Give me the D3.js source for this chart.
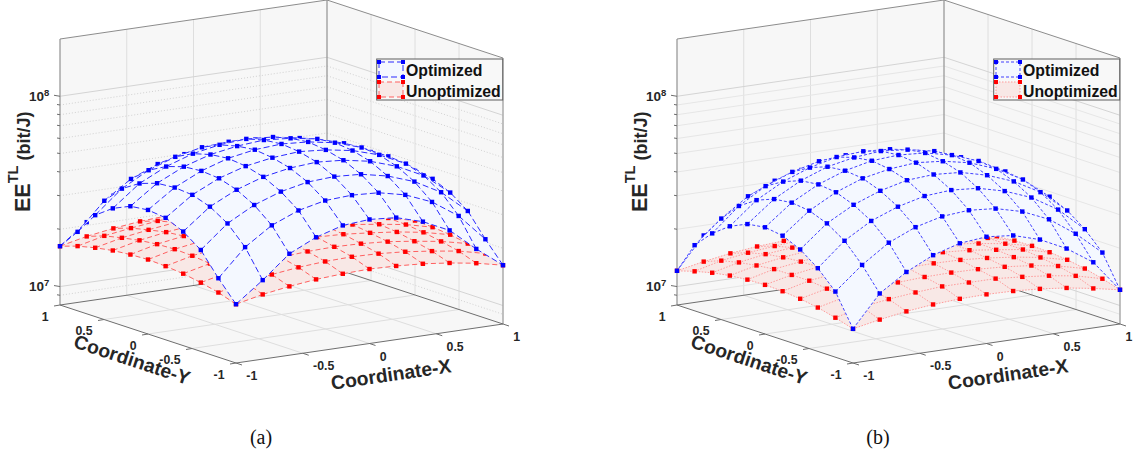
<!DOCTYPE html>
<html>
<head>
<meta charset="utf-8">
<script src="https://cdnjs.cloudflare.com/ajax/libs/d3/7.8.5/d3.min.js"></script>
<style>
    body {margin:0; background:#fff;}
    svg {display:block;}
    text {font-family:"Liberation Sans",Arial,sans-serif; font-weight:bold; fill:#262626;}
    text.caption {font-family:"Liberation Serif","Times New Roman",serif; font-weight:normal; fill:#111;}
</style>
</head>
<body>
<svg id="chart" width="1133" height="454"></svg>
<script>
// grid and axis values
const gridCoords = [-1,-0.8,-0.6,-0.4,-0.2,0,0.2,0.4,0.6,0.8,1];
const xyTicks = [-1,-0.5,0,0.5,1];
const zMajor = [1e7,1e8];
const zMinor = [9e6,2e7,3e7,4e7,5e7,6e7,7e7,8e7,9e7];
const zUnit = 1e7;
const legendLabels = ['Optimized','Unoptimized'];

// EE^TL in units of 1e7 bit/J
const optimizedA = [
    [1.63,2.08,2.73,3.18,3.50,3.59,3.50,3.18,2.73,2.08,1.63],
    [2.08,2.89,3.59,4.10,4.41,4.49,4.41,4.10,3.59,2.89,2.08],
    [2.73,3.59,4.28,4.80,5.14,5.24,5.14,4.80,4.28,3.59,2.73],
    [3.18,4.10,4.80,5.35,5.68,5.82,5.68,5.35,4.80,4.10,3.18],
    [3.50,4.41,5.14,5.68,6.00,6.16,6.00,5.68,5.14,4.41,3.50],
    [3.59,4.49,5.24,5.82,6.16,6.30,6.16,5.82,5.24,4.49,3.59],
    [3.50,4.41,5.14,5.68,6.00,6.16,6.00,5.68,5.14,4.41,3.50],
    [3.18,4.10,4.80,5.35,5.68,5.82,5.68,5.35,4.80,4.10,3.18],
    [2.73,3.59,4.28,4.80,5.14,5.24,5.14,4.80,4.28,3.59,2.73],
    [2.08,2.89,3.59,4.10,4.41,4.49,4.41,4.10,3.59,2.89,2.08],
    [1.63,2.08,2.73,3.18,3.50,3.59,3.50,3.18,2.73,2.08,1.63]
];
const unoptimizedA = [
    [1.63,1.75,1.84,1.91,1.95,1.97,1.95,1.91,1.84,1.75,1.63],
    [1.75,1.89,1.98,2.06,2.11,2.13,2.11,2.06,1.98,1.89,1.75],
    [1.84,1.98,2.08,2.17,2.22,2.24,2.22,2.17,2.08,1.98,1.84],
    [1.91,2.06,2.17,2.25,2.32,2.35,2.32,2.25,2.17,2.06,1.91],
    [1.95,2.11,2.22,2.32,2.38,2.41,2.38,2.32,2.22,2.11,1.95],
    [1.97,2.13,2.24,2.35,2.41,2.43,2.41,2.35,2.24,2.13,1.97],
    [1.95,2.11,2.22,2.32,2.38,2.41,2.38,2.32,2.22,2.11,1.95],
    [1.91,2.06,2.17,2.25,2.32,2.35,2.32,2.25,2.17,2.06,1.91],
    [1.84,1.98,2.08,2.17,2.22,2.24,2.22,2.17,2.08,1.98,1.84],
    [1.75,1.89,1.98,2.06,2.11,2.13,2.11,2.06,1.98,1.89,1.75],
    [1.63,1.75,1.84,1.91,1.95,1.97,1.95,1.91,1.84,1.75,1.63]
];
const optimizedB = [
    [1.21,1.77,2.19,2.56,2.82,2.91,2.82,2.56,2.19,1.77,1.21],
    [1.77,2.33,2.91,3.35,3.64,3.74,3.64,3.35,2.91,2.33,1.77],
    [2.19,2.91,3.53,4.00,4.34,4.45,4.34,4.00,3.53,2.91,2.19],
    [2.56,3.35,4.00,4.52,4.90,5.01,4.90,4.52,4.00,3.35,2.56],
    [2.82,3.64,4.34,4.90,5.23,5.39,5.23,4.90,4.34,3.64,2.82],
    [2.91,3.74,4.45,5.01,5.39,5.51,5.39,5.01,4.45,3.74,2.91],
    [2.82,3.64,4.34,4.90,5.23,5.39,5.23,4.90,4.34,3.64,2.82],
    [2.56,3.35,4.00,4.52,4.90,5.01,4.90,4.52,4.00,3.35,2.56],
    [2.19,2.91,3.53,4.00,4.34,4.45,4.34,4.00,3.53,2.91,2.19],
    [1.77,2.33,2.91,3.35,3.64,3.74,3.64,3.35,2.91,2.33,1.77],
    [1.21,1.77,2.19,2.56,2.82,2.91,2.82,2.56,2.19,1.77,1.21]
];
const unoptimizedB = [
    [1.21,1.29,1.36,1.41,1.44,1.45,1.44,1.41,1.36,1.29,1.21],
    [1.29,1.40,1.47,1.52,1.56,1.56,1.56,1.52,1.47,1.40,1.29],
    [1.36,1.47,1.55,1.60,1.63,1.64,1.63,1.60,1.55,1.47,1.36],
    [1.41,1.52,1.60,1.66,1.70,1.71,1.70,1.66,1.60,1.52,1.41],
    [1.44,1.56,1.63,1.70,1.74,1.76,1.74,1.70,1.63,1.56,1.44],
    [1.45,1.56,1.64,1.71,1.76,1.79,1.76,1.71,1.64,1.56,1.45],
    [1.44,1.56,1.63,1.70,1.74,1.76,1.74,1.70,1.63,1.56,1.44],
    [1.41,1.52,1.60,1.66,1.70,1.71,1.70,1.66,1.60,1.52,1.41],
    [1.36,1.47,1.55,1.60,1.63,1.64,1.63,1.60,1.55,1.47,1.36],
    [1.29,1.40,1.47,1.52,1.56,1.56,1.56,1.52,1.47,1.40,1.29],
    [1.21,1.29,1.36,1.41,1.44,1.45,1.44,1.41,1.36,1.29,1.21]
];

const svg = d3.select('#chart');
const chartWidth = +svg.attr('width');

let SurfacePanel = function ({
                                 offsetX = 0,
                                 caption = '',
                                 optimized,
                                 unoptimized,
                                 minorDash = null,
                                 minorColor = '#dcdcdc',
                                 blueLine = {stroke:'#2a2aff', dash:'6,3'},
                                 redLine = {stroke:'#ff6060', dash:'5,3'}
                             }) {
    let master = {};
    const frontX = 236, frontY = 363;
    // orthographic view, every axis is a pair of scales: data -> screen dx, dy
    const xToDx = d3.scaleLinear().domain([-1,1]).range([0,267]);
    const xToDy = d3.scaleLinear().domain([-1,1]).range([0,-39]);
    const yToDx = d3.scaleLinear().domain([-1,1]).range([0,-176]);
    const yToDy = d3.scaleLinear().domain([-1,1]).range([0,-58]);
    const zToDy = d3.scaleLog().domain([8e6,2e8]).range([0,-266]);
    const [zMin, zMax] = zToDy.domain();
    const project = (x,y,z)=>[frontX+xToDx(x)+yToDx(y), frontY+xToDy(x)+yToDy(y)+zToDy(z)];
    const line = d3.line();
    const poly = pts=>line(pts.map(p=>project(...p)))+'Z';

    master.el = svg.append('g').attr('transform',`translate(${offsetX},0)`);

    const drawFrame = ()=>{
        const g = master.el.append('g').attr('class','frame');
        g.selectAll('path.wall')
            .data([
                [[-1,1,zMin],[1,1,zMin],[1,1,zMax],[-1,1,zMax]],
                [[1,1,zMin],[1,-1,zMin],[1,-1,zMax],[1,1,zMax]],
                [[-1,-1,zMin],[1,-1,zMin],[1,1,zMin],[-1,1,zMin]]
            ])
            .join('path')
            .attr('class','wall')
            .attr('d',poly)
            .attr('fill','#f7f7f7');

        const inner = xyTicks.slice(1,-1);
        const gridData = [];
        inner.forEach(t=>{
            gridData.push([[t,1,zMin],[t,1,zMax]]);
            gridData.push([[1,t,zMin],[1,t,zMax]]);
            gridData.push([[t,-1,zMin],[t,1,zMin]]);
            gridData.push([[-1,t,zMin],[1,t,zMin]]);
        });
        g.selectAll('path.grid')
            .data(gridData)
            .join('path')
            .attr('class','grid')
            .attr('d',d=>line(d.map(p=>project(...p))))
            .attr('fill','none')
            .attr('stroke','#dedede')
            .attr('stroke-width',1);

        g.selectAll('path.zMinor')
            .data(zMinor)
            .join('path')
            .attr('class','zMinor')
            .attr('d',z=>line([project(-1,1,z),project(1,1,z),project(1,-1,z)]))
            .attr('fill','none')
            .attr('stroke',minorColor)
            .attr('stroke-width',1)
            .attr('stroke-dasharray',minorDash);
        g.selectAll('path.zMajor')
            .data(zMajor)
            .join('path')
            .attr('class','zMajor')
            .attr('d',z=>line([project(-1,1,z),project(1,1,z),project(1,-1,z)]))
            .attr('fill','none')
            .attr('stroke','#d4d4d4')
            .attr('stroke-width',1);

        // box edges
        const edges = [
            {p:[[-1,1,zMin],[-1,1,zMax]], c:'#9a9a9a', w:1.3},
            {p:[[1,1,zMin],[1,1,zMax]], c:'#9a9a9a', w:1.3},
            {p:[[1,-1,zMin],[1,-1,zMax]], c:'#ababab', w:1.5},
            {p:[[-1,1,zMax],[1,1,zMax],[1,-1,zMax]], c:'#8c8c8c', w:1},
            {p:[[-1,1,zMin],[1,1,zMin],[1,-1,zMin]], c:'#6e6e6e', w:1},
            {p:[[-1,1,zMin],[-1,-1,zMin],[1,-1,zMin]], c:'#6e6e6e', w:1}
        ];
        g.selectAll('path.edge')
            .data(edges)
            .join('path')
            .attr('class','edge')
            .attr('d',d=>line(d.p.map(p=>project(...p))))
            .attr('fill','none')
            .attr('stroke',d=>d.c)
            .attr('stroke-width',d=>d.w);
    };

    const drawAxes = ()=>{
        const g = master.el.append('g').attr('class','axes');
        const tickLine = (sel,cls,data,from,dx,dy)=>sel.selectAll('line.'+cls)
            .data(data)
            .join('line')
            .attr('class',cls)
            .attr('x1',d=>from(d)[0])
            .attr('y1',d=>from(d)[1])
            .attr('x2',d=>from(d)[0]+dx)
            .attr('y2',d=>from(d)[1]+dy)
            .attr('stroke','#6e6e6e')
            .attr('stroke-width',1);
        const onY = t=>project(-1,t,zMin);
        const onX = t=>project(t,-1,zMin);
        const onZ = z=>project(-1,1,z);
        tickLine(g,'yTick',xyTicks,onY,-6,1);
        tickLine(g,'xTick',xyTicks,onX,6,2);
        tickLine(g,'zTick',zMajor,onZ,-6,-1);
        tickLine(g,'zMinorTick',zMinor,onZ,-3,-0.5);

        g.selectAll('text.yLabel')
            .data(xyTicks)
            .join('text')
            .attr('class','yLabel')
            .attr('x',d=>onY(d)[0]-11.5)
            .attr('y',d=>onY(d)[1]+15.5)
            .attr('text-anchor','end')
            .attr('font-size',12.3)
            .text(d=>d);
        // the last x label of the right panel sits at the page edge, keep it inside
        g.selectAll('text.xLabel')
            .data(xyTicks)
            .join('text')
            .attr('class','xLabel')
            .attr('x',d=>Math.min(onX(d)[0]+10.3, chartWidth-offsetX-7.5))
            .attr('y',d=>onX(d)[1]+17)
            .attr('font-size',12.3)
            .text(d=>d);

        const zLabel = g.selectAll('text.zLabel')
            .data(zMajor)
            .join('text')
            .attr('class','zLabel')
            .attr('x',d=>onZ(d)[0]-31)
            .attr('y',d=>onZ(d)[1]+4.5)
            .attr('font-size',13.5);
        zLabel.append('tspan').text('10');
        zLabel.append('tspan')
            .attr('font-size',9.5)
            .attr('dy',-5)
            .text(d=>Math.round(Math.log10(d)));

        g.append('text')
            .attr('transform',`translate(130,366) rotate(18.2)`)
            .attr('text-anchor','middle')
            .attr('font-size',19.3)
            .text('Coordinate-Y');
        g.append('text')
            .attr('transform',`translate(392,381) rotate(-8.3)`)
            .attr('text-anchor','middle')
            .attr('font-size',19.3)
            .text('Coordinate-X');

        const zTitle = g.append('text')
            .attr('transform','translate(29.5,212) rotate(-90)')
            .attr('font-size',21.5);
        zTitle.append('tspan').text('EE');
        zTitle.append('tspan').attr('font-size',14.5).attr('dy',-12).text('TL');
        zTitle.append('tspan').attr('font-size',18).attr('dy',12).attr('dx',5).text('(bit/J)');

        master.el.append('text')
            .attr('class','caption')
            .attr('x',261)
            .attr('y',444)
            .attr('text-anchor','middle')
            .attr('font-size',20)
            .text(caption);
    };

    // painter's order, far corner (index 10,10) first
    const drawSurface = (values,fill,lineStyle,markerColor,cls)=>{
        const pt = (i,j)=>project(gridCoords[i],gridCoords[j],values[j][i]*zUnit);
        const items = [];
        const n = gridCoords.length;
        d3.range(n).forEach(i=>d3.range(n).forEach(j=>{
            if (i<n-1 && j<n-1)
                items.push({kind:'cell',depth:i+j+1,rank:0,d:line([pt(i,j),pt(i+1,j),pt(i+1,j+1),pt(i,j+1)])+'Z'});
            if (i<n-1)
                items.push({kind:'edge',depth:i+j,rank:1,d:line([pt(i,j),pt(i+1,j)])});
            if (j<n-1)
                items.push({kind:'edge',depth:i+j,rank:1,d:line([pt(i,j),pt(i,j+1)])});
            items.push({kind:'marker',depth:i+j-1,rank:2,p:pt(i,j)});
        }));
        items.sort((a,b)=>d3.descending(a.depth,b.depth)||d3.ascending(a.rank,b.rank));

        const g = master.el.append('g').attr('class',cls);
        g.selectAll('.item')
            .data(items)
            .join(enter=>enter.append(d=>document.createElementNS('http://www.w3.org/2000/svg',d.kind==='marker'?'rect':'path')))
            .attr('class',d=>'item '+d.kind)
            .each(function(d){
                const el = d3.select(this);
                if (d.kind==='cell'){
                    el.attr('d',d.d).attr('fill',fill).attr('stroke',fill).attr('stroke-width',0.5);
                }else if (d.kind==='edge'){
                    el.attr('d',d.d).attr('fill','none')
                        .attr('stroke',lineStyle.stroke)
                        .attr('stroke-width',1)
                        .attr('stroke-dasharray',lineStyle.dash);
                }else{
                    el.attr('x',d.p[0]-2.2).attr('y',d.p[1]-2.2).attr('width',4.4).attr('height',4.4).attr('fill',markerColor);
                }
            });
    };

    const drawLegend = ()=>{
        const g = master.el.append('g').attr('class','legend');
        g.append('rect')
            .attr('x',376.7).attr('y',59)
            .attr('width',126).attr('height',41)
            .attr('fill','#f8f8f8')
            .attr('stroke','#5f5f5f')
            .attr('stroke-width',1);
        const entries = [
            {label:legendLabels[0],y0:62,fill:'#f4f8ff',color:'#0000ff',style:blueLine,base:76},
            {label:legendLabels[1],y0:82,fill:'#f8e8e6',color:'#ff0000',style:redLine,base:96.5}
        ];
        const rows = g.selectAll('g.row').data(entries).join('g').attr('class','row');
        rows.append('rect')
            .attr('x',379).attr('y',d=>d.y0)
            .attr('width',24).attr('height',15)
            .attr('fill',d=>d.fill)
            .attr('stroke',d=>d.style.stroke)
            .attr('stroke-width',1)
            .attr('stroke-dasharray',d=>d.style.dash);
        rows.selectAll('rect.corner')
            .data(d=>[[379,d.y0,d.color],[403,d.y0,d.color],[379,d.y0+15,d.color],[403,d.y0+15,d.color]])
            .join('rect')
            .attr('class','corner')
            .attr('x',d=>d[0]-2).attr('y',d=>d[1]-2)
            .attr('width',4).attr('height',4)
            .attr('fill',d=>d[2]);
        rows.append('text')
            .attr('x',406).attr('y',d=>d.base)
            .attr('font-size',15.8)
            .style('fill','#111')
            .text(d=>d.label);
    };

    master.draw = ()=>{
        drawFrame();
        drawAxes();
        drawSurface(unoptimized,'#f8e8e6',redLine,'#ff0000','unoptimized');
        drawSurface(optimized,'#f4f8ff',blueLine,'#0000ff','optimized');
        drawLegend();
        return master;
    };
    return master;
};

SurfacePanel({
    offsetX:0,
    caption:'(a)',
    optimized:optimizedA,
    unoptimized:unoptimizedA,
    minorDash:'1,2',
    minorColor:'#d2d2d2'
}).draw();

SurfacePanel({
    offsetX:617,
    caption:'(b)',
    optimized:optimizedB,
    unoptimized:unoptimizedB,
    minorColor:'#e6e6e6',
    blueLine:{stroke:'#4040ff', dash:'3,2'},
    redLine:{stroke:'#ff9a9a', dash:'1.5,1.5'}
}).draw();
</script>
</body>
</html>
